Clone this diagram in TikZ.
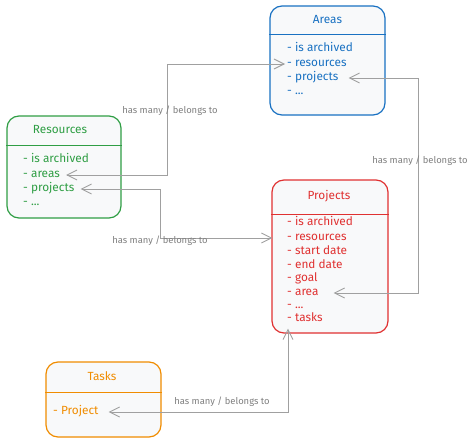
\documentclass[tikz,border=0pt]{standalone}
\usepackage{fontspec}
\setmainfont{Fira Sans}
\usepackage{tikz}
\usetikzlibrary{calc,arrows.meta,backgrounds}
\definecolor{areablue}{HTML}{1971C2}
\definecolor{resgreen}{HTML}{2F9E44}
\definecolor{projred}{HTML}{E03131}
\definecolor{taskorange}{HTML}{F08C00}
\definecolor{linkgray}{HTML}{A0A0A0}
\definecolor{labelgray}{HTML}{808080}
\definecolor{boxfill}{HTML}{F8F9FA}
\newcommand{\boxline}{1.2pt}
\newcommand{\linkline}{0.9pt}
\newcommand{\itemsize}{\fontsize{11.8}{13}\selectfont}
\newcommand{\labelsize}{\fontsize{9.4}{11}\selectfont}
\newcommand{\tip}{Straight Barb[length=10pt,width=10pt]}

\begin{document}
\begin{tikzpicture}[x=1pt,y=-1pt,
  box/.style={draw=#1, fill=boxfill, line width=\boxline, rounded corners=12pt, inner sep=0pt},
  title/.style={text=#1, font=\itemsize, inner sep=0pt, text height=8pt, text depth=2.5pt},
  item/.style={text=#1, font=\itemsize, anchor=west, inner sep=0pt, text height=8pt, text depth=2.5pt},
  link/.style={draw=linkgray, line width=\linkline, {\tip}-{\tip}},
  linklabel/.style={text=labelgray, font=\labelsize, inner sep=0pt}]
\useasboundingbox (0,0) rectangle (474,444);
%areas
\node[box=areablue, minimum width=115pt, minimum height=109pt] (areas) at (327.5,60.5) {};
\draw[areablue, line width=\boxline] ([yshift=-29pt]areas.north west) -- ([yshift=-29pt]areas.north east);
\node[title=areablue] (at) at (327.5,21) {Areas};
\node[item=areablue] (a1) at (287,49) {- is archived};
\node[item=areablue] (a2) at (287,64) {- resources};
\node[item=areablue] (a3) at (287,78) {- projects};
\node[item=areablue] (a4) at (287,92) {- ...};
%resources
\node[box=resgreen, minimum width=114pt, minimum height=102pt] (resources) at (64,167) {};
\draw[resgreen, line width=\boxline] ([yshift=-30pt]resources.north west) -- ([yshift=-30pt]resources.north east);
\node[title=resgreen] (rt) at (60,131) {Resources};
\node[item=resgreen] (r1) at (23,160) {- is archived};
\node[item=resgreen] (r2) at (23,175) {- areas};
\node[item=resgreen] (r3) at (23,189) {- projects};
\node[item=resgreen] (r4) at (23,203) {- ...};
%projects
\node[box=projred, minimum width=116pt, minimum height=153pt] (projects) at (330,256.5) {};
\draw[projred, line width=\boxline] ([yshift=-35pt]projects.north west) -- ([yshift=-35pt]projects.north east);
\node[title=projred] (pt) at (329,197) {Projects};
\node[item=projred] (p1) at (287,223) {- is archived};
\node[item=projred] (p2) at (287,238) {- resources};
\node[item=projred] (p3) at (287,252) {- start date};
\node[item=projred] (p4) at (287,266) {- end date};
\node[item=projred] (p5) at (287,279) {- goal};
\node[item=projred] (p6) at (287,293) {- area};
\node[item=projred] (p7) at (287,306) {- ...};
\node[item=projred] (p8) at (287,319) {- tasks};
%tasks
\node[box=taskorange, minimum width=115pt, minimum height=75pt] (tasks) at (103.5,399.5) {};
\draw[taskorange, line width=\boxline] ([yshift=-31pt]tasks.north west) -- ([yshift=-31pt]tasks.north east);
\node[title=taskorange] (tt) at (102,378) {Tasks};
\node[item=taskorange] (t1) at (53,412) {- Project};
%links
\coordinate (bend1) at (167,0);
\coordinate (bend2) at (160,0);
\coordinate (bend3) at (418,0);
\draw[link] ([xshift=6pt]r2.east) -- (r2.east -| bend1) -- (bend1 |- a2.west) -- ([xshift=-2pt]a2.west);
\draw[link] ([xshift=6pt]r3.east) -- (r3.east -| bend2) -- (bend2 |- p2.west) -- ([xshift=1pt]projects.west |- p2.west);
\draw[link] ([xshift=10pt]a3.east) -- (a3.east -| bend3) -- (bend3 |- p6.west) -- ([xshift=15pt]p6.east);
\draw[link] ([xshift=10pt]t1.east) -| ([xshift=-42pt,yshift=5pt]projects.south);
\node[linklabel] (l1) at (170,111) {has many / belongs to};
\node[linklabel] (l2) at (160,241) {has many / belongs to};
\node[linklabel] (l3) at (420,161) {has many / belongs to};
\node[linklabel] (l4) at (222,402) {has many / belongs to};
\end{tikzpicture}
\end{document}
